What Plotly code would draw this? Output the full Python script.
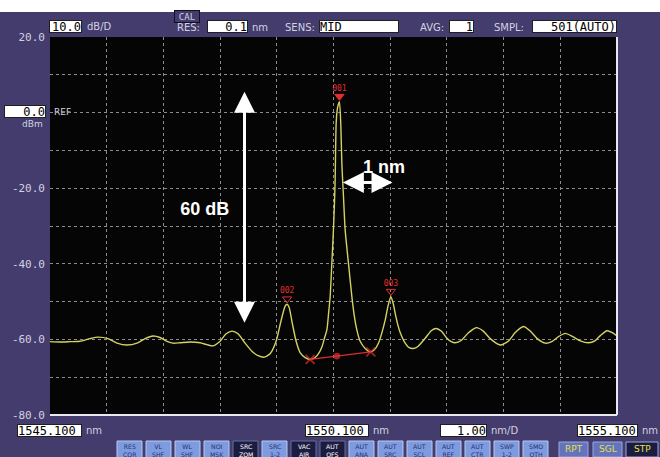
import plotly.graph_objects as go

# ---------------- data ----------------
wavelength_nm = [
    1545.100, 1545.276, 1545.453, 1545.629, 1545.806, 1545.947, 1546.123, 1546.282,
    1546.459, 1546.635, 1546.776, 1546.918, 1547.041, 1547.165, 1547.270, 1547.394,
    1547.570, 1547.747, 1547.870, 1547.976, 1548.100, 1548.206, 1548.312, 1548.417,
    1548.541, 1548.665, 1548.770, 1548.876, 1548.982, 1549.088, 1549.176, 1549.247,
    1549.282, 1549.317, 1549.370, 1549.441, 1549.511, 1549.600, 1549.688, 1549.776,
    1549.847, 1549.900, 1549.944, 1549.983, 1550.014, 1550.041, 1550.071, 1550.099,
    1550.117, 1550.129, 1550.147, 1550.164, 1550.182, 1550.205, 1550.230, 1550.247,
    1550.276, 1550.306, 1550.364, 1550.424, 1550.464, 1550.512, 1550.570, 1550.659,
    1550.747, 1550.817, 1550.893, 1550.958, 1551.011, 1551.064, 1551.112, 1551.153,
    1551.188, 1551.241, 1551.276, 1551.364, 1551.435, 1551.511, 1551.594, 1551.717,
    1551.823, 1551.911, 1552.000, 1552.100, 1552.176, 1552.247, 1552.352, 1552.476,
    1552.617, 1552.741, 1552.864, 1553.041, 1553.182, 1553.305, 1553.452, 1553.570,
    1553.694, 1553.835, 1553.958, 1554.064, 1554.188, 1554.311, 1554.452, 1554.599,
    1554.717, 1554.805, 1554.923, 1555.017, 1555.100,
]
power_dbm = [
    -60.6, -60.7, -60.6, -60.5, -59.8, -59.4, -59.8, -61.0,
    -61.5, -61.0, -59.8, -59.1, -59.5, -60.5, -61.0, -60.9,
    -60.7, -60.9, -61.4, -61.7, -60.5, -58.5, -57.8, -58.5,
    -61.0, -63.2, -64.3, -64.7, -63.8, -60.5, -55.0, -51.2,
    -50.7, -51.5, -55.5, -60.5, -63.5, -64.8, -65.3, -64.8,
    -63.5, -61.8, -59.5, -57.5, -53.0, -48.7, -39.8, -31.0,
    -24.0, -17.8, -2.8, 0.5, 2.0, 2.9, -3.7, -13.4,
    -22.2, -31.1, -39.9, -48.7, -53.5, -57.5, -60.5, -62.4,
    -63.3, -62.8, -61.0, -58.0, -54.9, -51.0, -48.7, -50.5,
    -53.1, -56.5, -58.2, -61.0, -62.2, -62.4, -61.8, -59.7,
    -57.7, -57.1, -57.8, -59.7, -60.6, -60.9, -60.3, -58.3,
    -56.9, -57.8, -59.8, -61.5, -60.5, -58.2, -56.6, -57.8,
    -59.8, -61.0, -60.5, -59.3, -58.4, -59.2, -60.4, -60.9,
    -60.3, -59.0, -57.7, -58.2, -59.1,
]

marker_labels = ["001", "002", "003"]
marker_wl = [1550.205, 1549.282, 1551.112]
marker_db = [2.9, -50.7, -48.7]

snr_wl = [1549.688, 1550.160, 1550.757]
snr_db = [-65.3, -64.4, -63.3]

y_ticks = [20, 10, 0, -10, -20, -30, -40, -50, -60, -70, -80]
y_ticktext = ["20.0", "", "", "", "-20.0", "", "-40.0", "", "-60.0", "", "-80.0"]
x_grid = [1546.1, 1547.1, 1548.1, 1549.1, 1550.1, 1551.1, 1552.1, 1553.1, 1554.1]

# span annotations (in data units)
span_db = dict(x=1548.53, y_top=5.5, y_bot=-55.6)
span_nm = dict(y=-18.5, x_left=1550.265, x_right=1551.14)
span_texts = ["60 dB", "1 nm"]
span_text_x = [1547.83, 1550.99]
span_text_y = [-26.0, -14.9]

# ---------------- figure ----------------
W, H = 660, 457
L, R, T, B = 50, 617, 37, 415
PURPLE = "#443c6c"
LABEL = "#d2d2e0"
MONO = "DejaVu Sans Mono"
SANS = "DejaVu Sans"


def px(x):
    return (x - L) / (R - L)


def py(y):
    return (B - y) / (B - T)


fig = go.Figure()
fig.add_trace(go.Scatter(
    x=wavelength_nm, y=power_dbm, mode="lines",
    line=dict(color="#d4d264", width=1.4, shape="spline", smoothing=0.6),
    hoverinfo="skip", showlegend=False))

fig.add_trace(go.Scatter(
    x=snr_wl, y=snr_db, mode="lines+markers",
    line=dict(color="#d83030", width=1.3),
    marker=dict(symbol=["x-thin", "circle", "x-thin"], size=[9, 5, 9],
                color="#e03030", line=dict(color="#e03030", width=1.8)),
    hoverinfo="skip", showlegend=False))

# marker triangles and their labels
fig.add_trace(go.Scatter(
    x=marker_wl, y=[v + 1.4 for v in marker_db], mode="markers",
    marker=dict(symbol=["triangle-down", "triangle-down-open", "triangle-down-open"],
                size=8, color="#e03030", line=dict(color="#e03030", width=1)),
    hoverinfo="skip", showlegend=False, cliponaxis=False))
fig.add_trace(go.Scatter(
    x=marker_wl, y=[v + 3.4 for v in marker_db], mode="text",
    text=marker_labels, textposition="middle center",
    textfont=dict(family=MONO, size=8, color="#e03030"),
    hoverinfo="skip", showlegend=False, cliponaxis=False))

# span labels
fig.add_trace(go.Scatter(
    x=span_text_x, y=span_text_y, mode="text", text=["<b>%s</b>" % t for t in span_texts],
    textposition="middle center",
    textfont=dict(family="Liberation Sans", size=18, color="white"),
    hoverinfo="skip", showlegend=False))

ann = []
shapes = []

# instrument frame: purple panel, black screen
shapes.append(dict(type="rect", xref="paper", yref="paper", x0=px(-10), x1=px(670),
                   y0=py(470), y1=py(12), fillcolor=PURPLE, line=dict(width=0), layer="below"))
shapes.append(dict(type="rect", xref="paper", yref="paper", x0=0, x1=1, y0=0, y1=1,
                   fillcolor="#050505", line=dict(width=0), layer="below"))
# bevel border right & bottom
shapes.append(dict(type="line", xref="paper", yref="paper", x0=1.0, x1=1.0,
                   y0=0, y1=1.0, line=dict(color="#e8e8f0", width=2), layer="above"))
shapes.append(dict(type="line", xref="paper", yref="paper", x0=0, x1=1.0,
                   y0=0, y1=0, line=dict(color="#e8e8f0", width=2), layer="above"))

# thin white strip along the top edge
ann.append(dict(xref="paper", yref="paper", x=px(0), y=py(0), xanchor="left", yanchor="top",
                text="&nbsp;", showarrow=False, width=660, height=12, bgcolor="white",
                borderpad=0, borderwidth=0, font=dict(size=8, color="white")))


def box(x0, x1, yc, text, align="right", bg="white", fg="black", size=12, border="#202020"):
    ann.append(dict(xref="paper", yref="paper", x=px((x0 + x1) / 2), y=py(yc),
                    xanchor="center", yanchor="middle", text=text, showarrow=False,
                    width=x1 - x0 - 2, height=11, align=align, bgcolor=bg,
                    bordercolor=border, borderwidth=1, borderpad=0,
                    font=dict(family=MONO, size=size, color=fg)))


def label(x, yc, text, anchor="left", size=10, color=LABEL, family=SANS):
    ann.append(dict(xref="paper", yref="paper", x=px(x), y=py(yc), xanchor=anchor,
                    yanchor="middle", text=text, showarrow=False,
                    font=dict(family=family, size=size, color=color)))


# top bar
box(49, 82, 27, "10.0")
label(85, 27, "dB/D")
box(174, 200, 17, "CAL", align="center", bg=PURPLE, fg=LABEL, size=9, border="#101020")
label(175, 27.5, "RES:")
box(207, 248, 27, "0.1")
label(250, 27.5, "nm")
label(283, 27.5, "SENS:")
box(319, 399, 27, "MID", align="left")
label(418, 27.5, "AVG:")
box(449, 474, 27, "1")
label(492, 27.5, "SMPL:")
box(532, 617, 27, "501(AUTO)")

# reference level
box(4, 46, 111, "0.0")
label(45, 124, "dBm", anchor="right", size=9)
label(52, 112, "REF", size=9)

# bottom wavelength readouts
box(17, 82, 430, "1545.100", align="left", size=12)
label(84, 430.5, "nm")
box(305, 369, 430, "1550.100", align="left", size=12)
label(371, 430.5, "nm")
box(440, 487, 430, "1.00", size=12)
label(489, 430.5, "nm/D")
box(577, 638, 430, "1555.100", align="left", size=12)
label(640, 430.5, "nm")

# soft-key buttons
btn_labels = ["RES<br>COR", "VL<br>SHF", "WL<br>SHF", "NOI<br>MSK", "SRC<br>ZOM", "SRC<br>1-2",
              "VAC<br>AIR", "AUT<br>OFS", "AUT<br>ANA", "AUT<br>SRC", "AUT<br>SCL", "AUT<br>REF",
              "AUT<br>CTR", "SWP<br>1-2", "SMO<br>OTH"]
dark = {"SRC<br>ZOM", "VAC<br>AIR", "AUT<br>OFS"}
for i, t in enumerate(btn_labels):
    x0 = 117 + i * 29
    x1 = x0 + 25
    is_dark = t in dark
    shapes.append(dict(type="rect", xref="paper", yref="paper", x0=px(x0), x1=px(x1),
                       y0=py(462), y1=py(441), fillcolor="#1c1c40" if is_dark else "#7e9be0",
                       line=dict(color="#b8c8f0" if not is_dark else "#6070a0", width=1),
                       layer="above"))
    ann.append(dict(xref="paper", yref="paper", x=px((x0 + x1) / 2), y=py(441),
                    xanchor="center", yanchor="top", text=t, showarrow=False,
                    font=dict(family=SANS, size=6.2, color="white" if is_dark else "#26306e")))

for x0, x1, t, fill in [(559, 588, "RPT", "#6474bc"), (593, 622, "SGL", "#6474bc"),
                        (626, 658, "STP", "#1c1c40")]:
    shapes.append(dict(type="rect", xref="paper", yref="paper", x0=px(x0), x1=px(x1),
                       y0=py(457), y1=py(442), fillcolor=fill,
                       line=dict(color="#9aa8e0", width=1), layer="above"))
    ann.append(dict(xref="paper", yref="paper", x=px((x0 + x1) / 2), y=py(449.5),
                    xanchor="center", yanchor="middle", text=t, showarrow=False,
                    font=dict(family=SANS, size=9, color="#e8e040")))

# double-headed arrows: shaft as a line shape, heads as short annotation arrows
shapes.append(dict(type="line", xref="x", yref="y", x0=span_db["x"], x1=span_db["x"],
                   y0=span_db["y_bot"] + 2.5, y1=span_db["y_top"] - 2.5,
                   line=dict(color="white", width=3), layer="above"))
shapes.append(dict(type="line", xref="x", yref="y", x0=span_nm["x_left"] + 0.15,
                   x1=span_nm["x_right"] - 0.15, y0=span_nm["y"], y1=span_nm["y"],
                   line=dict(color="white", width=3), layer="above"))
head = dict(xref="x", yref="y", text="", showarrow=True, arrowhead=2, arrowsize=1.4,
            arrowwidth=3, arrowcolor="white", standoff=0)
ann.append(dict(head, x=span_db["x"], y=span_db["y_top"], ax=0, ay=16))
ann.append(dict(head, x=span_db["x"], y=span_db["y_bot"], ax=0, ay=-16))
ann.append(dict(head, x=span_nm["x_left"], y=span_nm["y"], ax=16, ay=0))
ann.append(dict(head, x=span_nm["x_right"], y=span_nm["y"], ax=-16, ay=0))

fig.update_layout(
    width=W, height=H,
    margin=dict(l=L, r=W - R, t=T, b=H - B, pad=0),
    paper_bgcolor="white", plot_bgcolor="#050505",
    xaxis=dict(range=[1545.1, 1555.1], tickvals=x_grid, showticklabels=False, ticks="",
               showgrid=True, gridcolor="#8c8c8c", griddash="3px,3px", gridwidth=1,
               zeroline=False, showline=False, fixedrange=True),
    yaxis=dict(range=[-80, 20], tickvals=y_ticks, ticktext=y_ticktext, ticks="",
               tickfont=dict(family=MONO, size=11, color=LABEL), ticklabelstandoff=4,
               showgrid=True, gridcolor="#8c8c8c", griddash="3px,3px", gridwidth=1,
               zeroline=False, showline=False, fixedrange=True),
    shapes=shapes, annotations=ann,
)

fig.write_html(
    "out.html",
    config={"displayModeBar": False, "staticPlot": True},
    post_script="document.body.style.margin='0';",
)
